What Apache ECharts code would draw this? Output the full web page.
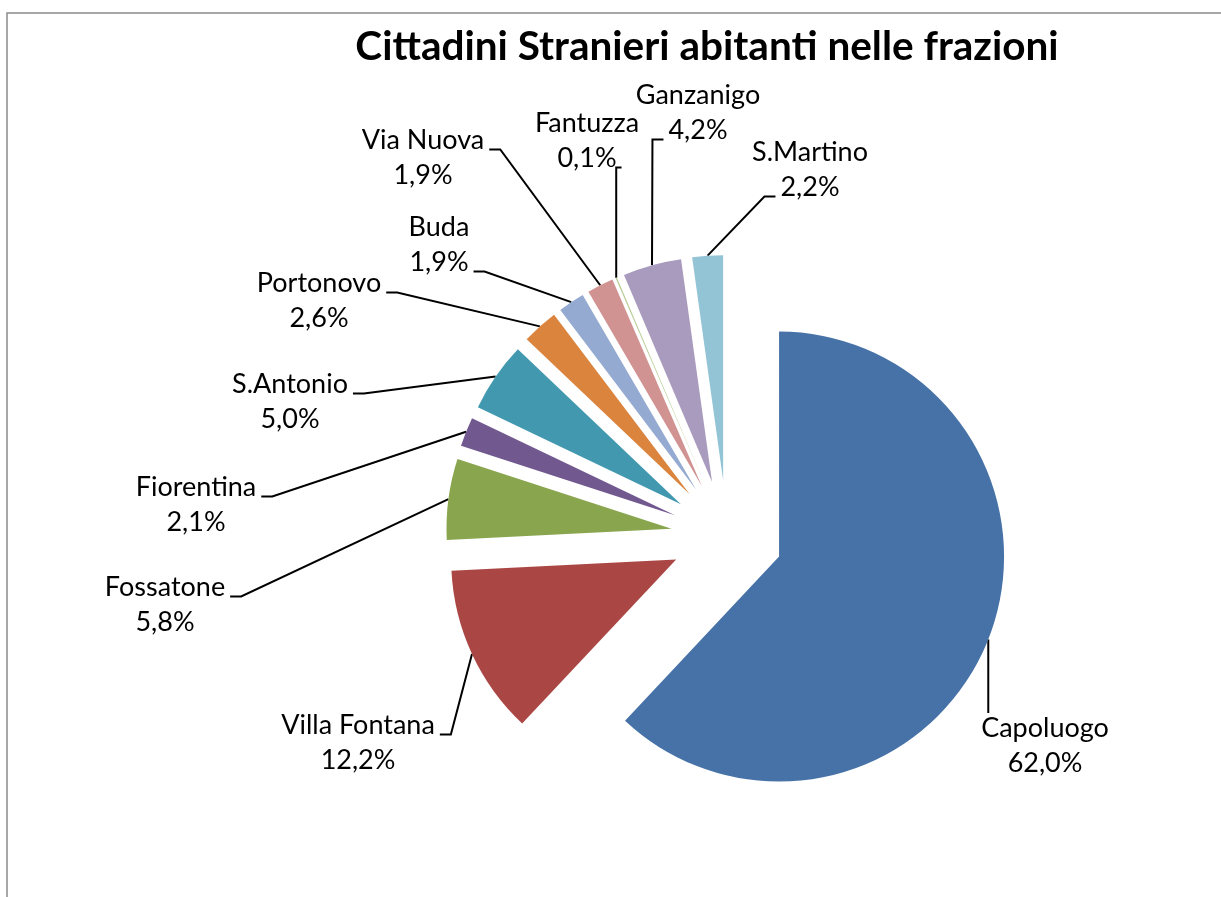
<!DOCTYPE html>
<html>
<head>
<meta charset="utf-8">
<script src="https://cdn.jsdelivr.net/npm/echarts@6/dist/echarts.min.js"></script>
<style>
  html, body { margin: 0; padding: 0; background: #fff; }
  #chart { width: 1221px; height: 897px; }
</style>
</head>
<body>
<div id="chart"></div>
<script>
// data, clockwise from 12 o'clock
const categories = ["Capoluogo", "Villa Fontana", "Fossatone", "Fiorentina", "S.Antonio",
  "Portonovo", "Buda", "Via Nuova", "Fantuzza", "Ganzanigo", "S.Martino"];
const shares = [62.0, 12.2, 5.8, 2.1, 5.0, 2.6, 1.9, 1.9, 0.1, 4.2, 2.2];

// styling
const sliceColors = ["#4672A7", "#AA4744", "#89A54E", "#71588F", "#4198AF",
  "#DA843E", "#94AAD0", "#D19392", "#B9CD96", "#A99BBD", "#93C4D6"];
// where Excel put each data label (centre of the two-line box)
const labelSpots = [[1045, 746], [358, 743], [165, 605], [196, 505], [290, 402],
  [319, 301], [439, 245], [423, 158], [587, 141], [698, 113], [810, 170]];
// which text row the leader line hooks on (-1 = line ends above the box)
const hookRow = [-1, 0, 0, 0, 0, 0, 1, 0, 1, 1, 1];

const pieCenter = [727, 536];
const pieRadius = 225;
const explode = 56;
const fontFamily = "Lato, 'Noto Sans', sans-serif";
const labelSize = 27;
const rowHeight = 35;

const pct = v => v.toFixed(1).replace(".", ",") + "%";

const measure = document.createElement("canvas").getContext("2d");
measure.font = labelSize + "px Lato";

// labels sit on an unexploded twin of the pie; the leader line starts on the
// arc of the exploded slice (the arc point pushed out along its bisector)
function placeLabel(params) {
  const i = params.dataIndex;
  const spot = labelSpots[i];
  const s = params.labelLinePoints[0];
  const vx = s[0] - pieCenter[0], vy = s[1] - pieCenter[1];
  const len = Math.hypot(vx, vy);
  const start = [s[0] + vx / len * explode, s[1] + vy / len * explode];
  const h = params.labelRect.height;
  let elbow, end;
  if (hookRow[i] < 0) {
    end = [start[0], spot[1] - h / 2 + 2];
    elbow = end.slice();
  } else {
    const row = hookRow[i];
    const txt = row === 0 ? categories[i] : pct(shares[i]);
    const w = measure.measureText(txt).width;
    const base = spot[1] - rowHeight / 2 + row * rowHeight + 9;
    if (spot[0] < start[0]) {
      end = [spot[0] + w / 2 + 5, base];
      elbow = [Math.min(end[0] + 11, start[0]), base];
    } else {
      end = [spot[0] - w / 2 - 5, base];
      elbow = [Math.max(end[0] - 11, start[0]), base];
    }
  }
  return {
    x: spot[0],
    y: spot[1],
    align: "center",
    verticalAlign: "middle",
    labelLinePoints: [start, elbow, end]
  };
}

const chart = echarts.init(document.getElementById("chart"));
chart.setOption({
  animation: false,
  backgroundColor: "#fff",
  title: {
    text: "Cittadini Stranieri abitanti nelle frazioni",
    left: 702,
    top: 21,
    textAlign: "center",
    textStyle: { fontFamily, fontSize: 40.5, fontWeight: "bold", color: "#000" }
  },
  graphic: [{
    type: "rect",
    shape: { x: 7, y: 13, width: 1240, height: 900 },
    style: { fill: "none", stroke: "#8a8a8a", lineWidth: 1.5 },
    silent: true
  }],
  series: [
    {
      type: "pie",
      center: pieCenter,
      radius: pieRadius,
      startAngle: 90,
      clockwise: true,
      selectedMode: "multiple",
      selectedOffset: explode,
      emphasis: { disabled: true },
      label: { show: false },
      labelLine: { show: false },
      data: categories.map((name, i) => ({
        name,
        value: shares[i],
        selected: true,
        itemStyle: { color: sliceColors[i] }
      }))
    },
    {
      type: "pie",
      center: pieCenter,
      radius: pieRadius,
      startAngle: 90,
      clockwise: true,
      silent: true,
      avoidLabelOverlap: false,
      emphasis: { disabled: true },
      itemStyle: { color: "rgba(0,0,0,0)" },
      label: {
        show: true,
        position: "outside",
        fontFamily,
        fontSize: labelSize,
        lineHeight: rowHeight,
        color: "#000",
        formatter: p => p.name + "\n" + pct(p.value)
      },
      labelLine: { show: true, length: 20, length2: 10, lineStyle: { color: "#000", width: 2 } },
      labelLayout: placeLabel,
      data: categories.map((name, i) => ({ name, value: shares[i] }))
    }
  ]
});
</script>
</body>
</html>
